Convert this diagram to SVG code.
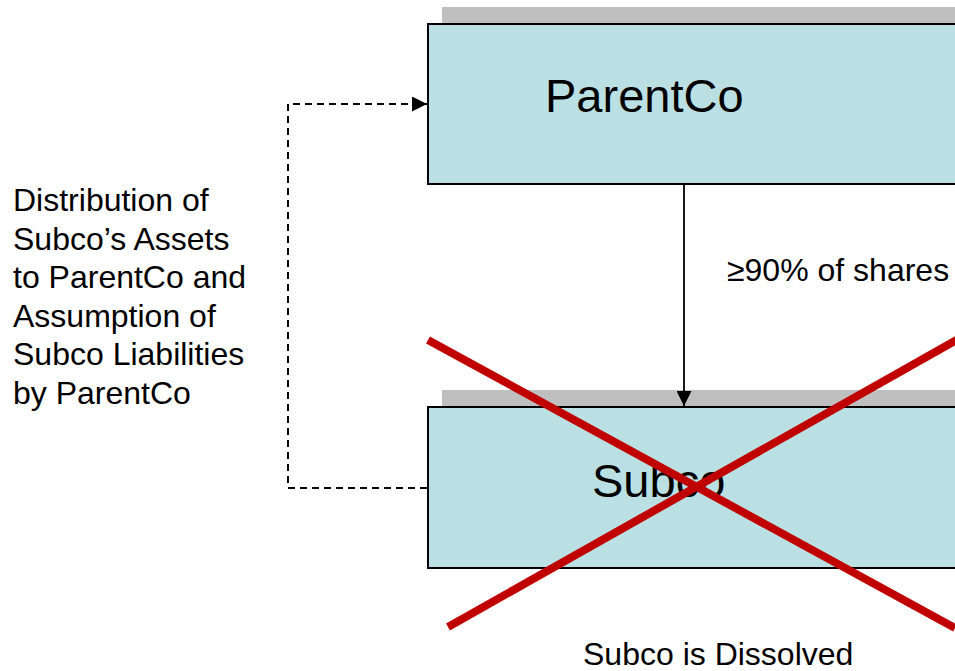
<svg xmlns="http://www.w3.org/2000/svg" width="955" height="671" viewBox="0 0 955 671">
  <defs>
    <style>
      .txt { font-family: "Liberation Sans", Arial, sans-serif; fill: #000; }
      .title { font-size: 47px; }
      .label { font-size: 32px; }
      .shadow { fill: #bfbfbf; }
      .box { fill: #bbe0e3; stroke: #000; stroke-width: 2; }
      .solid { fill: none; stroke: #000; stroke-width: 1.8; }
      .dashed { fill: none; stroke: #000; stroke-width: 2; stroke-dasharray: 7 5; }
      .cross { stroke: #c00000; stroke-width: 8; stroke-linecap: butt; }
    </style>
    <marker id="arrow" viewBox="0 0 10 10" refX="10" refY="5" markerWidth="15" markerHeight="15" markerUnits="userSpaceOnUse" orient="auto">
      <path d="M0,0 L10,5 L0,10 z" fill="#000"/>
    </marker>
  </defs>

  <rect width="955" height="671" fill="#fff"/>

  <!-- ParentCo node -->
  <g id="parentco">
    <rect class="shadow" x="442" y="7" width="520" height="18"/>
    <rect class="box" x="428" y="24" width="540" height="160"/>
    <text class="txt title" x="545" y="112">ParentCo</text>
  </g>

  <!-- Subco node -->
  <g id="subco">
    <rect class="shadow" x="442" y="390" width="520" height="18"/>
    <rect class="box" x="428" y="407" width="540" height="161"/>
    <text class="txt title" x="592" y="497">Subco</text>
  </g>

  <!-- Connectors -->
  <g id="connectors">
    <line class="solid" x1="684" y1="184" x2="684" y2="406" marker-end="url(#arrow)"/>
    <polyline class="dashed" points="427,488 288,488 288,104 427,104" marker-end="url(#arrow)"/>
  </g>

  <!-- Labels -->
  <g id="labels">
    <text class="txt label" x="727" y="281">≥90% of shares</text>
    <text class="txt label" x="13">
      <tspan x="13" y="211">Distribution of</tspan>
      <tspan x="13" y="250">Subco’s Assets</tspan>
      <tspan x="13" y="288">to ParentCo and</tspan>
      <tspan x="13" y="327">Assumption of</tspan>
      <tspan x="13" y="365">Subco Liabilities</tspan>
      <tspan x="13" y="404">by ParentCo</tspan>
    </text>
    <text class="txt label" x="583" y="665">Subco is Dissolved</text>
  </g>

  <!-- Red cross over the dissolved entity -->
  <g id="dissolved-cross">
    <line class="cross" x1="428" y1="340" x2="955" y2="628"/>
    <line class="cross" x1="448" y1="627" x2="960" y2="338"/>
  </g>
</svg>
